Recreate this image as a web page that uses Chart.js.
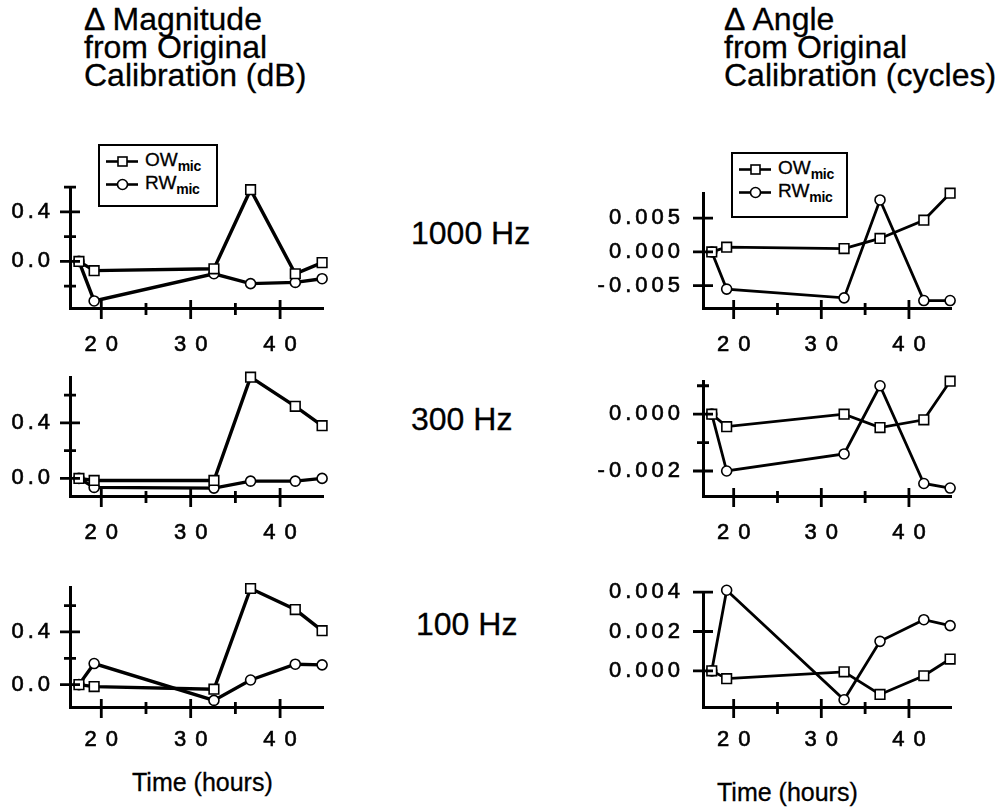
<!DOCTYPE html>
<html><head><meta charset="utf-8">
<script src="https://cdn.jsdelivr.net/npm/chart.js@4/dist/chart.umd.min.js"></script>
<style>
html,body{margin:0;padding:0;background:#fff}
body{width:998px;height:808px;position:relative;overflow:hidden;font-family:"Liberation Sans",Arial,Helvetica,sans-serif;color:#000}
.t{position:absolute;white-space:nowrap;-webkit-text-stroke:0.3px #000}
.title{font-size:32px;line-height:28px}
.freq{font-size:32px;line-height:28px}
.xt{font-size:25px;line-height:25px}
.box{position:absolute}
.legend{position:absolute;border:2px solid #000;background:#fff;font-size:19px;padding:4px 4px 0 5px;box-sizing:border-box;-webkit-text-stroke:0.3px #000}
.legend .row{display:flex;align-items:center;height:23px}
.legend svg{margin-right:6px;flex:none}
.legend sub{font-size:14px;vertical-align:-5px;letter-spacing:-0.3px;font-weight:bold;-webkit-text-stroke:0}
</style>
</head><body>
<div class="t title" style="left:84px;top:5px">&Delta; Magnitude<br>from Original<br>Calibration (dB)</div>
<div class="t title" style="left:724px;top:5px">&Delta; Angle<br>from Original<br>Calibration (cycles)</div>
<div class="t freq" style="left:411px;top:219px">1000 Hz</div>
<div class="t freq" style="left:411px;top:405px">300 Hz</div>
<div class="t freq" style="left:416px;top:610px">100 Hz</div>
<div class="t xt" style="left:132px;top:770px">Time (hours)</div>
<div class="t xt" style="left:717px;top:780px">Time (hours)</div>

<div class="box" id="bL1"><canvas id="cL1"></canvas></div>
<div class="box" id="bL2"><canvas id="cL2"></canvas></div>
<div class="box" id="bL3"><canvas id="cL3"></canvas></div>
<div class="box" id="bR1"><canvas id="cR1"></canvas></div>
<div class="box" id="bR2"><canvas id="cR2"></canvas></div>
<div class="box" id="bR3"><canvas id="cR3"></canvas></div>
<div class="legend" id="legL" style="left:98px;top:144px;width:120px;height:63px"></div>
<div class="legend" id="legR" style="left:731px;top:152px;width:117px;height:66px"></div>

<script>
// ---- data ----
const hours = [17.5, 19.2, 32.6, 36.7, 41.7, 44.7];
const seriesNames = ['OW', 'RW'];
const seriesSub = 'mic';

const magOW1000 = [0, -0.075, -0.06, 0.58, -0.10, -0.01];
const magRW1000 = [0, -0.32, -0.10, -0.18, -0.17, -0.14];
const magOW300  = [0, -0.015, -0.015, 0.73, 0.52, 0.38];
const magRW300  = [0, -0.065, -0.07, -0.02, -0.02, 0.0];
const magOW100  = [0, -0.015, -0.035, 0.73, 0.57, 0.41];
const magRW100  = [0, 0.16, -0.12, 0.035, 0.155, 0.15];

const angOW1000 = [0, 0.0007, 0.0005, 0.0020, 0.0047, 0.0087];
const angRW1000 = [0, -0.0055, -0.0068, 0.0077, -0.0072, -0.0072];
const angOW300  = [0, -0.00044, 0.0, -0.00047, -0.0002, 0.00116];
const angRW300  = [0, -0.0020, -0.0014, 0.0010, -0.00244, -0.0026];
const angOW100  = [0, -0.0004, -0.00005, -0.0012, -0.00025, 0.0006];
const angRW100  = [0, 0.0041, -0.00147, 0.0015, 0.0026, 0.0023];

const xMajor = [20, 30, 40];
const xMinor = [25, 35];
const magMajor = [0.0, 0.4];
const magMajorLabels = ['0.0', '0.4'];
const mag1000Minor = [-0.2, 0.2, 0.6];
const magMinor = [0.2, 0.6];
const ang1000Major = [-0.005, 0.0, 0.005];
const ang1000Labels = ['-0.005', '0.000', '0.005'];
const ang300Major = [-0.002, 0.0];
const ang300Labels = ['-0.002', '0.000'];
const ang300Minor = [-0.001, 0.001];
const ang100Major = [0.0, 0.002, 0.004];
const ang100Labels = ['0.000', '0.002', '0.004'];

// ---- drawing ----
const FONT = '"Liberation Sans", Arial, Helvetica, sans-serif';
const X_SPACING = 9, Y_SPACING = 4;
const crossTicks = {
  id: 'crossTicks',
  afterLayout(chart) {
    const xs = chart.scales.x, ys = chart.scales.y;
    if (!xs._wrapped) {
      const o = xs.drawLabels.bind(xs);
      xs.drawLabels = function (ca) { const c = chart.ctx; c.save(); c.letterSpacing = X_SPACING + 'px'; o(ca); c.restore(); };
      xs._wrapped = true;
    }
    if (!ys._wrapped) {
      const o = ys.drawLabels.bind(ys);
      ys.drawLabels = function (ca) { const c = chart.ctx; c.save(); c.letterSpacing = Y_SPACING + 'px'; o(ca); c.restore(); };
      ys._wrapped = true;
    }
  },
  afterDatasetsDraw(chart, args, opts) {
    const ctx = chart.ctx, ca = chart.chartArea;
    const xs = chart.scales.x, ys = chart.scales.y;
    ctx.save();
    ctx.strokeStyle = '#000';
    ctx.lineWidth = 2.8;
    ctx.beginPath();
    ys.ticks.forEach(t => {
      const p = ys.getPixelForValue(t.value);
      const L = opts.yMajor.includes(t.value) ? 10 : 6;
      ctx.moveTo(ca.left - L, p); ctx.lineTo(ca.left + L, p);
    });
    xs.ticks.forEach(t => {
      const p = xs.getPixelForValue(t.value);
      const up = xMajor.includes(t.value) ? 8 : 5;
      const dn = xMajor.includes(t.value) ? 11 : 7;
      ctx.moveTo(p, ca.bottom - up); ctx.lineTo(p, ca.bottom + dn);
    });
    ctx.stroke();
    ctx.restore();
  }
};

function makePanel(id, ow, rw, cfg) {
  const padTop = 20, padRight = 24, xH = 55;
  const box = document.getElementById('b' + id);
  box.style.left = (cfg.axL - cfg.yW) + 'px';
  box.style.top = (cfg.axT - padTop) + 'px';
  box.style.width = (cfg.axR - cfg.axL + cfg.yW + padRight) + 'px';
  box.style.height = (cfg.axB - cfg.axT + padTop + xH) + 'px';
  const yTicks = cfg.yMajor.concat(cfg.yMinor).sort((a, b) => a - b);
  const xTicks = xMajor.concat(xMinor).sort((a, b) => a - b);
  const ds = (name, data, style) => ({
    label: name, data: hours.map((h, i) => ({ x: h, y: data[i] })),
    borderColor: '#000', borderWidth: cfg.lw, pointStyle: style,
    pointRadius: style === 'rect' ? 6.8 : 5, pointBackgroundColor: '#fff',
    pointBorderColor: '#000', pointBorderWidth: 1.6, clip: false, tension: 0
  });
  new Chart(document.getElementById('c' + id), {
    type: 'line',
    data: { datasets: [ds(seriesNames[0], ow, 'rect'), ds(seriesNames[1], rw, 'circle')] },
    options: {
      responsive: true, maintainAspectRatio: false, animation: false,
      layout: { padding: { top: padTop, right: padRight, left: 0, bottom: 0 } },
      plugins: { legend: { display: false }, tooltip: { enabled: false }, crossTicks: { yMajor: cfg.yMajor } },
      scales: {
        x: {
          type: 'linear', min: 16.5, max: 44.8,
          grid: { display: false, drawTicks: false },
          border: { display: true, color: '#000', width: 3 },
          afterFit: s => { s.height = xH; },
          afterBuildTicks: s => { s.ticks = xTicks.map(v => ({ value: v })); },
          ticks: {
            color: '#000', padding: cfg.xPad, maxRotation: 0, autoSkip: false,
            labelOffset: X_SPACING / 2, textStrokeColor: '#000', textStrokeWidth: 0.6,
            font: { family: FONT, size: 22 },
            callback: v => xMajor.includes(v) ? String(v) : ''
          }
        },
        y: {
          type: 'linear', min: cfg.yMin, max: cfg.yMax,
          grid: { display: false, drawTicks: false },
          border: { display: true, color: '#000', width: 3 },
          afterFit: s => { s.width = cfg.yW; },
          afterBuildTicks: s => { s.ticks = yTicks.map(v => ({ value: v })); },
          ticks: {
            color: '#000', padding: cfg.yPad, autoSkip: false,
            textStrokeColor: '#000', textStrokeWidth: 0.6,
            font: { family: FONT, size: 22 },
            callback: v => { const i = cfg.yMajor.indexOf(v); return i >= 0 ? cfg.yLabels[i] : ''; }
          }
        }
      }
    },
    plugins: [crossTicks]
  });
}

const L = { axL: 70, axR: 323, yW: 70, lw: 3.4, yPad: 16 };
const R = { axL: 703, axR: 951, yW: 133, lw: 2.8, yPad: 19 };
makePanel('L1', magOW1000, magRW1000, Object.assign({}, L, { xPad: 24, axT: 178, axB: 308, yMin: -0.377, yMax: 0.6, yMajor: magMajor, yLabels: magMajorLabels, yMinor: mag1000Minor }));
makePanel('L2', magOW300, magRW300, Object.assign({}, L, { xPad: 24, axT: 368, axB: 496, yMin: -0.127, yMax: 0.73, yMajor: magMajor, yLabels: magMajorLabels, yMinor: magMinor }));
makePanel('L3', magOW100, magRW100, Object.assign({}, L, { xPad: 20, axT: 578, axB: 707, yMin: -0.17, yMax: 0.74, yMajor: magMajor, yLabels: magMajorLabels, yMinor: magMinor }));
makePanel('R1', angOW1000, angRW1000, Object.assign({}, R, { xPad: 24, axT: 181, axB: 308, yMin: -0.0083, yMax: 0.0087, yMajor: ang1000Major, yLabels: ang1000Labels, yMinor: [] }));
makePanel('R2', angOW300, angRW300, Object.assign({}, R, { xPad: 24, axT: 369, axB: 496, yMin: -0.00288, yMax: 0.00116, yMajor: ang300Major, yLabels: ang300Labels, yMinor: ang300Minor }));
makePanel('R3', angOW100, angRW100, Object.assign({}, R, { xPad: 20, axT: 580, axB: 707, yMin: -0.00184, yMax: 0.004, yMajor: ang100Major, yLabels: ang100Labels, yMinor: [] }));

// ---- legends (HTML, real text) ----
function legendHTML() {
  const sym = (style) => {
    const m = style === 'rect'
      ? '<rect x="13" y="4" width="9" height="9" fill="#fff" stroke="#000" stroke-width="1.6"/>'
      : '<circle cx="17.5" cy="8.5" r="5" fill="#fff" stroke="#000" stroke-width="1.6"/>';
    return '<svg width="34" height="17"><line x1="1" y1="8.5" x2="33" y2="8.5" stroke="#000" stroke-width="2.6"/>' + m + '</svg>';
  };
  return seriesNames.map((n, i) => '<div class="row">' + sym(i === 0 ? 'rect' : 'circle') + '<span>' + n + '<sub>' + seriesSub + '</sub></span></div>').join('');
}
document.getElementById('legL').innerHTML = legendHTML();
document.getElementById('legR').innerHTML = legendHTML();
</script>
</body></html>
